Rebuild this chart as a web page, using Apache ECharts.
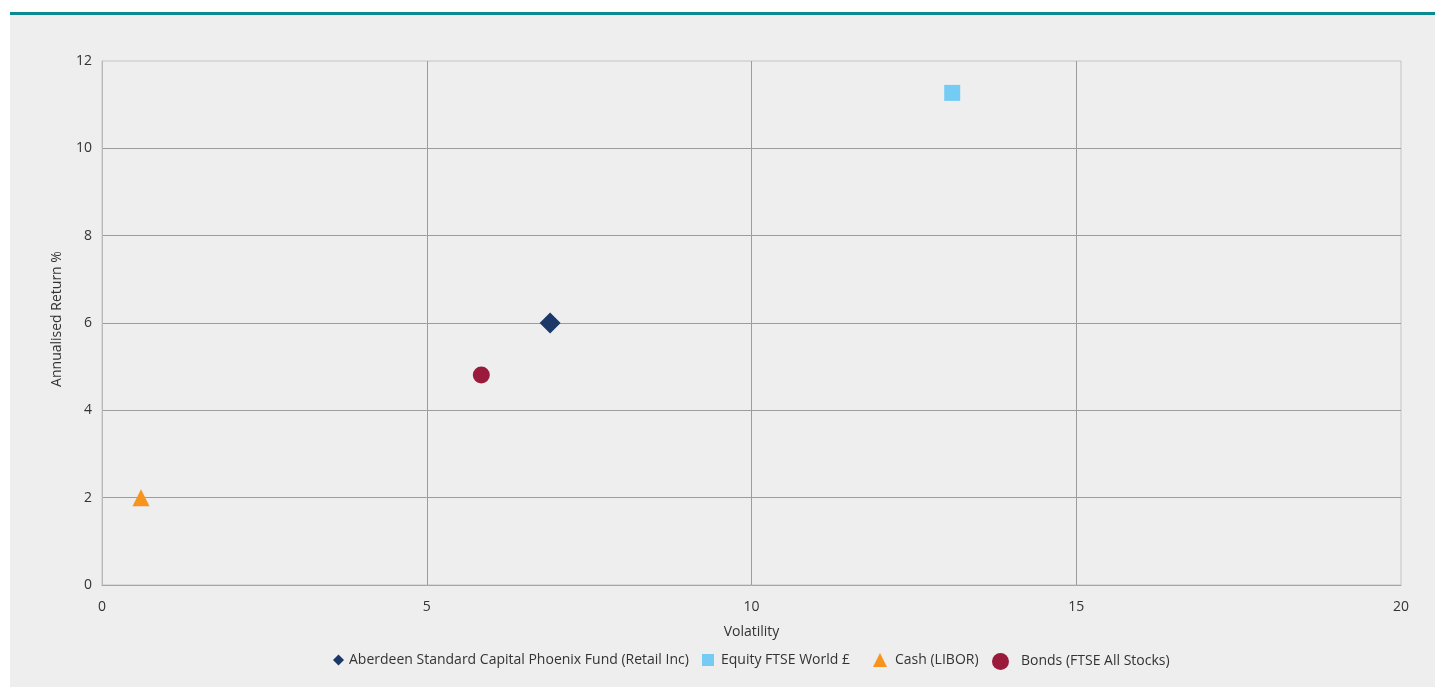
<!DOCTYPE html>
<html>
<head>
<meta charset="utf-8">
<script src="https://cdn.jsdelivr.net/npm/echarts@6/dist/echarts.min.js"></script>
<style>
html,body{margin:0;padding:0;background:#ffffff;width:1435px;height:687px;overflow:hidden;}
#bar{position:absolute;left:10px;top:12px;width:1425px;height:3px;background:#0b8a93;}
#chart{position:absolute;left:10px;top:15px;width:1425px;height:672px;background:#eeeeee;}
</style>
</head>
<body>
<div id="bar"></div>
<div id="chart"></div>
<script>
// Data
const seriesNames = [
  'Aberdeen Standard Capital Phoenix Fund (Retail Inc)',
  'Equity FTSE World £',
  'Cash (LIBOR)',
  'Bonds (FTSE All Stocks)'
];
const fundPoint = [6.9, 6.0];
const equityPoint = [13.09, 11.27];
const cashPoint = [0.6, 2.0];
const bondsPoint = [5.84, 4.81];
const xTicks = [0, 5, 10, 15, 20];
const yTicks = [0, 2, 4, 6, 8, 10, 12];

const colors = ['#1b3869', '#74ccf4', '#f7941d', '#9a1a3b'];
const symbols = ['diamond', 'rect', 'triangle', 'circle'];
const symSizes = [21, 16, 17, 17];
const points = [fundPoint, equityPoint, cashPoint, bondsPoint];

const font = '"Open Sans", "Noto Sans", sans-serif';
const txt = '#333333';
const fs = 14;

const chart = echarts.init(document.getElementById('chart'), null, {renderer: 'canvas'});

const legendCfg = [
  {left: 323, w: 11, h: 11, pad: 0},
  {left: 692, w: 12, h: 12, pad: 2},
  {left: 863, w: 14, h: 14, pad: 3},
  {left: 982, w: 17, h: 17, pad: 7}
];

const option = {
  animation: false,
  backgroundColor: '#eeeeee',
  textStyle: {fontFamily: font},
  grid: {
    left: 92, top: 46, width: 1299, height: 524,
    show: true, borderColor: '#c4c4c4', borderWidth: 1,
    backgroundColor: 'transparent', containLabel: false
  },
  legend: legendCfg.map((c, i) => ({
    data: [{name: seriesNames[i], icon: symbols[i]}],
    left: c.left,
    top: 637 + (17 - Math.max(c.h, 17)) / 2 + 1,
    itemWidth: c.w,
    itemHeight: c.h,
    padding: 0,
    selectedMode: false,
    textStyle: {color: txt, fontSize: fs, fontFamily: font, padding: [0, 0, 0, c.pad]}
  })),
  xAxis: {
    type: 'value',
    min: 0, max: 20, interval: 5,
    name: 'Volatility',
    nameLocation: 'middle',
    nameGap: 40,
    nameTextStyle: {color: txt, fontSize: fs, fontFamily: font},
    axisLine: {show: true, lineStyle: {color: '#a6a6a6', width: 1}},
    axisTick: {show: false},
    axisLabel: {
      color: txt, fontSize: fs, fontFamily: font, margin: 15,
      formatter: v => xTicks.includes(v) ? String(v) : ''
    },
    splitLine: {show: true, showMinLine: false, showMaxLine: false, lineStyle: {color: '#9c9c9c', width: 1}}
  },
  yAxis: {
    type: 'value',
    min: 0, max: 12, interval: 2,
    name: 'Annualised Return %',
    nameLocation: 'middle',
    nameGap: 38,
    nameRotate: 90,
    nameTextStyle: {color: txt, fontSize: fs, fontFamily: font, padding: [0, 0, 0, 8]},
    axisLine: {show: true, lineStyle: {color: '#b8b8b8', width: 1}},
    axisTick: {show: false},
    axisLabel: {
      color: txt, fontSize: fs, fontFamily: font, margin: 10, padding: [0, 0, 4, 0],
      formatter: v => yTicks.includes(v) ? String(v) : ''
    },
    splitLine: {show: true, showMinLine: false, showMaxLine: false, lineStyle: {color: '#9c9c9c', width: 1}}
  },
  series: seriesNames.map((n, i) => ({
    name: n,
    type: 'scatter',
    symbol: symbols[i],
    symbolSize: symSizes[i],
    itemStyle: {color: colors[i], opacity: 1},
    data: [points[i]],
    z: 5
  }))
};

chart.setOption(option);
</script>
</body>
</html>
